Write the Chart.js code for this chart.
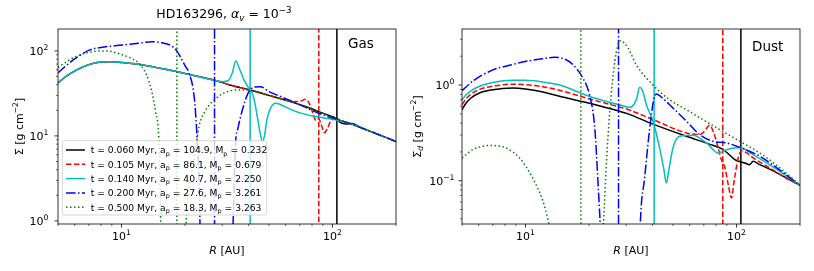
<!DOCTYPE html>
<html>
<head>
<meta charset="utf-8">
<script src="https://cdn.jsdelivr.net/npm/chart.js@4.4.1/dist/chart.umd.min.js"></script>
<style>
  body { margin: 0; background: #fff; }
  #wrap { position: relative; width: 814px; height: 271px; }
  canvas { position: absolute; top: 0; }
</style>
</head>
<body>
<div id="wrap">
  <canvas id="gasChart" width="407" height="271" style="left:0"></canvas>
  <canvas id="dustChart" width="407" height="271" style="left:407px"></canvas>
</div>
<script>
// snapshot times, planet radius [AU] and planet mass
const times = ["0.060", "0.105", "0.140", "0.200", "0.500"];
const planetA = [104.9, 86.1, 40.7, 27.6, 18.3];
const planetM = ["0.232", "0.679", "2.250", "3.261", "3.263"];

// gas surface density
const gas060R = [5, 5.5, 6, 6.5, 7, 8, 9, 10, 12, 15, 18, 22, 27.7, 33, 41, 50, 61, 75, 86.5, 100, 105, 108, 116, 124, 133, 150, 175, 200];
const gas060S = [42, 51, 58, 64, 69, 74, 74.5, 73, 69.5, 63, 57.5, 51.5, 45, 39.5, 34.5, 30, 26, 22, 19.2, 16.8, 15.9, 14.6, 13.8, 14.0, 12.9, 11.4, 9.8, 8.6];
const gas105R = [5, 5.5, 6, 6.5, 7, 8, 9, 10, 12, 15, 18, 22, 27.7, 33, 41, 50, 58, 64.6, 70, 74.6, 78, 81, 83.5, 86, 88.5, 91.5, 95, 98, 102, 110, 120, 150, 175, 200];
const gas105S = [42, 51, 58, 64, 69, 74, 74.5, 73, 69.5, 63, 57.5, 51.5, 45, 39.5, 34.5, 30, 27, 25.3, 25.5, 27, 23.5, 18, 15.2, 16, 13.5, 10.9, 12.5, 15, 15.8, 15.1, 14.0, 11.4, 9.8, 8.6];
const gas140R = [5, 5.5, 6, 6.5, 7, 8, 9, 10, 12, 15, 18, 22, 27.7, 30, 32, 33.5, 34.8, 36.2, 38, 40, 41.2, 42.5, 44, 45.5, 46.6, 47.6, 49, 51, 53.8, 60, 69.5, 83.4, 100, 120, 150, 175, 200];
const gas140S = [42, 51, 58, 64, 69, 74, 74.5, 73, 69.5, 63, 57.5, 51.5, 45, 43.5, 44.5, 55, 76, 62, 46, 37, 34, 27, 17, 10.5, 8.6, 10, 16, 21.5, 24.3, 21.8, 18.8, 16.9, 15.7, 14.1, 11.4, 9.8, 8.6];
const gas200R = [5, 5.5, 6.07, 7.02, 8, 10.1, 12, 14, 15.5, 17.1, 18.3, 19.1, 20, 20.9, 22.1, 22.7, 23.3, 23.8, 33.2, 34.8, 35.5, 37.4, 39.8, 42.5, 45.5, 50, 60, 75, 86, 100, 120, 150, 175, 200];
const gas200S = [55, 68, 82, 102, 110, 117, 123, 128, 125, 116, 100, 83, 67, 54.7, 29, 11.8, 3, 0.4, 0.4, 9, 11.8, 20.2, 31.8, 37.5, 38, 33.2, 27.5, 21.5, 18.5, 16.2, 14.1, 11.4, 9.8, 8.6];
const gas500R = [5, 5.5, 6.07, 7.29, 8.43, 10.1, 11.2, 12.1, 13.5, 14.5, 15.07, 15.35, 15.6, 19.5, 20.2, 20.55, 21, 22.1, 23.3, 24.6, 27.5, 31.8, 36.7, 41, 50, 61, 75, 86.5, 100, 110, 120, 150, 175, 200];
const gas500S = [64, 75, 85.7, 98, 100, 90, 81, 71.6, 43.5, 19.3, 7.8, 0.9, 0.3, 0.3, 0.9, 1.77, 2.6, 5.2, 12.9, 18.5, 26.5, 33.2, 34.8, 34.3, 30, 26, 22, 19.2, 16.6, 15.3, 14.1, 11.4, 9.8, 8.6];

// dust surface density
const dust060R = [5, 5.23, 5.52, 6.05, 7, 8.7, 10, 12.1, 14.5, 20.8, 27.9, 30.6, 40.2, 57.9, 75, 83.4, 90.6, 98.2, 104, 109.5, 115.6, 119.9, 126.7, 150, 175, 200];
const dust060S = [0.552, 0.648, 0.732, 0.825, 0.893, 0.93, 0.908, 0.845, 0.762, 0.633, 0.531, 0.5, 0.39, 0.291, 0.24, 0.22, 0.195, 0.166, 0.158, 0.153, 0.147, 0.16, 0.15, 0.126, 0.105, 0.0895];
const dust105R = [5, 5.23, 5.52, 6.05, 7, 8.7, 10, 12.1, 14.5, 20.8, 27.9, 30.6, 40.2, 57.9, 67, 70.5, 74.6, 77.5, 80.3, 84.9, 88, 91.5, 94.6, 97.5, 101.9, 105.5, 112, 120, 143.9, 170, 200];
const dust105S = [0.62, 0.72, 0.80, 0.90, 0.97, 1.02, 1.01, 0.96, 0.88, 0.70, 0.589, 0.555, 0.435, 0.316, 0.303, 0.33, 0.379, 0.33, 0.258, 0.165, 0.14, 0.09, 0.066, 0.1, 0.173, 0.205, 0.195, 0.173, 0.136, 0.108, 0.0895];
const dust140R = [5, 5.23, 5.52, 6.05, 7, 8.7, 10, 12.1, 14.5, 20.8, 27.9, 31.2, 33.5, 34.8, 36, 37.4, 40.2, 43.2, 45.3, 46.5, 47.8, 50, 53.8, 62.2, 72.1, 81.9, 89.7, 103.8, 120, 160.6, 200];
const dust140S = [0.70, 0.79, 0.87, 0.97, 1.06, 1.12, 1.12, 1.075, 1.0, 0.74, 0.623, 0.585, 0.7, 0.95, 0.85, 0.623, 0.418, 0.22, 0.13, 0.0946, 0.13, 0.22, 0.291, 0.298, 0.248, 0.195, 0.211, 0.223, 0.187, 0.125, 0.0895];
const dust200R = [5, 5.6, 7, 8.5, 10.08, 12, 13.7, 15.5, 16.8, 18.7, 20.1, 21.3, 22.0, 22.6, 23.2, 34.5, 35.0, 36.7, 38.8, 40.5, 41.7, 44, 48.2, 57.9, 67, 77.4, 89.7, 103.8, 129, 160, 200];
const dust200S = [0.87, 1.09, 1.44, 1.62, 1.77, 1.88, 1.95, 1.85, 1.63, 1.18, 0.792, 0.355, 0.107, 0.035, 0.01, 0.01, 0.035, 0.107, 0.355, 0.7, 0.805, 0.75, 0.623, 0.418, 0.303, 0.258, 0.248, 0.223, 0.18, 0.13, 0.0895];
const dust500R = [5, 5.62, 6.2, 6.74, 7.4, 8.09, 9.37, 10.8, 12.1, 12.9, 13.6, 22.6, 23.4, 24.2, 25.1, 26.5, 28.2, 30.6, 33.5, 40.2, 48.2, 57.9, 69.4, 83.4, 103.8, 129, 160.6, 200];
const dust500S = [0.173, 0.211, 0.228, 0.234, 0.231, 0.22, 0.173, 0.107, 0.061, 0.036, 0.02, 0.02, 0.036, 0.16, 0.531, 1.77, 2.9, 2.44, 1.63, 1.0, 0.703, 0.552, 0.434, 0.341, 0.258, 0.195, 0.136, 0.0895];

// axis limits
const xRange = [5, 200];
const gasRange = [0.92, 181];
const dustRange = [0.0353, 3.85];

const colors = ["#000000", "#ff0000", "#00bfbf", "#0000ff", "#008000"];
const dashes = [[], [5.5, 2.4], [], [9.6, 2.4, 1.5, 2.4], [1.5, 2.5]];
const FONT = '"DejaVu Sans"';

function toPoints(rs, ss) {
  return rs.map((r, i) => ({ x: r, y: ss[i] }));
}

function makeDatasets(rList, sList, yRange) {
  const sets = [];
  rList.forEach((rs, i) => {
    sets.push({
      data: toPoints(rs, sList[i]),
      borderColor: colors[i], borderDash: dashes[i], borderWidth: 1.5,
      pointRadius: 0, cubicInterpolationMode: "monotone", clip: 0, order: 10 - 2 * i
    });
    // planet position
    sets.push({
      data: [{ x: planetA[i], y: yRange[0] / 10 }, { x: planetA[i], y: yRange[1] * 10 }],
      borderColor: colors[i], borderDash: dashes[i], borderWidth: 1.5,
      pointRadius: 0, clip: 0, order: 9 - 2 * i
    });
  });
  return sets;
}

// text with sub/superscripts: parts = [[text, kind]], kind has "i" for italic, "^" sup, "_" sub
function mathText(ctx, parts, x, y, size, align) {
  const fontFor = k => {
    const small = k.includes("^") || k.includes("_");
    return (k.includes("i") ? "italic " : "") + (small ? size * 0.7 : size) + "px " + FONT;
  };
  let w = 0;
  const widths = parts.map(p => {
    ctx.font = fontFor(p[1]);
    const pw = ctx.measureText(p[0]).width;
    w += pw;
    return pw;
  });
  let cx = align === "center" ? x - w / 2 : align === "right" ? x - w : x;
  ctx.textAlign = "left";
  ctx.textBaseline = "alphabetic";
  parts.forEach((p, i) => {
    ctx.font = fontFor(p[1]);
    let dy = 0;
    if (p[1].includes("^")) dy = -size * 0.42;
    if (p[1].includes("_")) dy = size * 0.24;
    ctx.fillText(p[0], cx, y + dy);
    cx += widths[i];
  });
  return w;
}

function decadeTicks(lo, hi) {
  const major = [], minor = [];
  for (let e = Math.floor(Math.log10(lo)); e <= Math.ceil(Math.log10(hi)); e++) {
    for (let m = 1; m < 10; m++) {
      const v = m * Math.pow(10, e);
      if (v < lo * 0.999 || v > hi * 1.001) continue;
      (m === 1 ? major : minor).push(v);
    }
  }
  return { major, minor };
}

function expLabel(v) {
  const e = Math.round(Math.log10(v));
  return [["10", ""], [String(e).replace("-", "\u2212"), "^"]];
}

const mplAxes = {
  id: "mplAxes",
  afterDraw(chart) {
    const o = chart.options.plugins.mplAxes;
    const ctx = chart.ctx;
    const ca = chart.chartArea;
    const xs = chart.scales.x, ys = chart.scales.y;
    ctx.save();
    ctx.strokeStyle = "#000";
    ctx.fillStyle = "#000";
    ctx.lineWidth = 0.8;
    ctx.strokeRect(ca.left, ca.top, ca.right - ca.left, ca.bottom - ca.top);

    const xt = decadeTicks(xRange[0], xRange[1]);
    const yt = decadeTicks(o.yRange[0], o.yRange[1]);
    ctx.beginPath();
    xt.major.forEach(v => { const p = xs.getPixelForValue(v); ctx.moveTo(p, ca.bottom); ctx.lineTo(p, ca.bottom + 3.5); });
    yt.major.forEach(v => { const p = ys.getPixelForValue(v); ctx.moveTo(ca.left, p); ctx.lineTo(ca.left - 3.5, p); });
    ctx.stroke();
    ctx.lineWidth = 0.6;
    ctx.beginPath();
    xt.minor.forEach(v => { const p = xs.getPixelForValue(v); ctx.moveTo(p, ca.bottom); ctx.lineTo(p, ca.bottom + 2); });
    yt.minor.forEach(v => { const p = ys.getPixelForValue(v); ctx.moveTo(ca.left, p); ctx.lineTo(ca.left - 2, p); });
    ctx.stroke();

    xt.major.forEach(v => mathText(ctx, expLabel(v), xs.getPixelForValue(v), ca.bottom + 16, 11, "center"));
    yt.major.forEach(v => mathText(ctx, expLabel(v), ca.left - o.labelGap, ys.getPixelForValue(v) + 4, 11, "right"));

    mathText(ctx, [["R", "i"], [" [AU]", ""]], (ca.left + ca.right) / 2, 254, 11, "center");

    ctx.save();
    ctx.translate(o.yTitleX, (ca.top + ca.bottom) / 2);
    ctx.rotate(-Math.PI / 2);
    mathText(ctx, o.yTitle, 0, 0, 11, "center");
    ctx.restore();

    ctx.font = "13.5px " + FONT;
    ctx.textAlign = "left";
    ctx.fillText(o.tag, ca.right - 48, o.tagY);

    if (o.title) mathText(ctx, o.title, o.titleX, 18, 12.5, "center");

    if (o.legend) {
      const lx = 62.3, ly = 140.7, lw = 204.4, lh = 74.3, r = 2.5;
      ctx.beginPath();
      ctx.moveTo(lx + r, ly);
      ctx.arcTo(lx + lw, ly, lx + lw, ly + lh, r);
      ctx.arcTo(lx + lw, ly + lh, lx, ly + lh, r);
      ctx.arcTo(lx, ly + lh, lx, ly, r);
      ctx.arcTo(lx, ly, lx + lw, ly, r);
      ctx.closePath();
      ctx.fillStyle = "rgba(255,255,255,0.8)";
      ctx.fill();
      ctx.strokeStyle = "#cccccc";
      ctx.lineWidth = 0.8;
      ctx.stroke();
      times.forEach((t, i) => {
        const cy = 150 + i * 14.3;
        ctx.strokeStyle = colors[i];
        ctx.lineWidth = 1.5;
        ctx.setLineDash(dashes[i]);
        ctx.beginPath();
        ctx.moveTo(66, cy);
        ctx.lineTo(85, cy);
        ctx.stroke();
        ctx.setLineDash([]);
        ctx.fillStyle = "#000";
        mathText(ctx, [
          ["t = " + t + " Myr, a", ""], ["p", "_"],
          [" = " + planetA[i].toFixed(1) + ", M", ""], ["p", "_"],
          [" = " + planetM[i], ""]
        ], 90.7, cy + 3.3, 9.2, "left");
      });
    }
    ctx.restore();
  }
};

function makeChart(id, rList, sList, yRange, yWidth, padRight, extra) {
  return new Chart(document.getElementById(id), {
    type: "line",
    data: { datasets: makeDatasets(rList, sList, yRange) },
    options: {
      responsive: false,
      animation: false,
      events: [],
      layout: { padding: { top: 29, right: padRight, left: 0, bottom: 0 } },
      scales: {
        x: {
          type: "logarithmic", min: xRange[0], max: xRange[1],
          ticks: { display: false }, grid: { display: false }, border: { display: false },
          afterFit: s => { s.height = 47; }
        },
        y: {
          type: "logarithmic", min: yRange[0], max: yRange[1],
          ticks: { display: false }, grid: { display: false }, border: { display: false },
          afterFit: s => { s.width = yWidth; }
        }
      },
      plugins: {
        legend: { display: false },
        tooltip: { enabled: false },
        mplAxes: Object.assign({ yRange }, extra)
      }
    },
    plugins: [mplAxes]
  });
}

makeChart("gasChart",
  [gas060R, gas105R, gas140R, gas200R, gas500R],
  [gas060S, gas105S, gas140S, gas200S, gas500S],
  gasRange, 58, 11, {
    labelGap: 9.5,
    yTitleX: 22.5,
    yTitle: [["\u03A3 [g cm", ""], ["\u22122", "^"], ["]", ""]],
    tag: "Gas", tagY: 48.3,
    title: [["HD163296, ", ""], ["\u03B1", "i"], ["v", "_i"], [" = 10", ""], ["\u22123", "^"]],
    titleX: 224,
    legend: true
  });

makeChart("dustChart",
  [dust060R, dust105R, dust140R, dust200R, dust500R],
  [dust060S, dust105S, dust140S, dust200S, dust500S],
  dustRange, 55, 14, {
    labelGap: 7.5,
    yTitleX: 13.5,
    yTitle: [["\u03A3", ""], ["d", "_i"], [" [g cm", ""], ["\u22122", "^"], ["]", ""]],
    tag: "Dust", tagY: 50.7,
    legend: false
  });
</script>
</body>
</html>
